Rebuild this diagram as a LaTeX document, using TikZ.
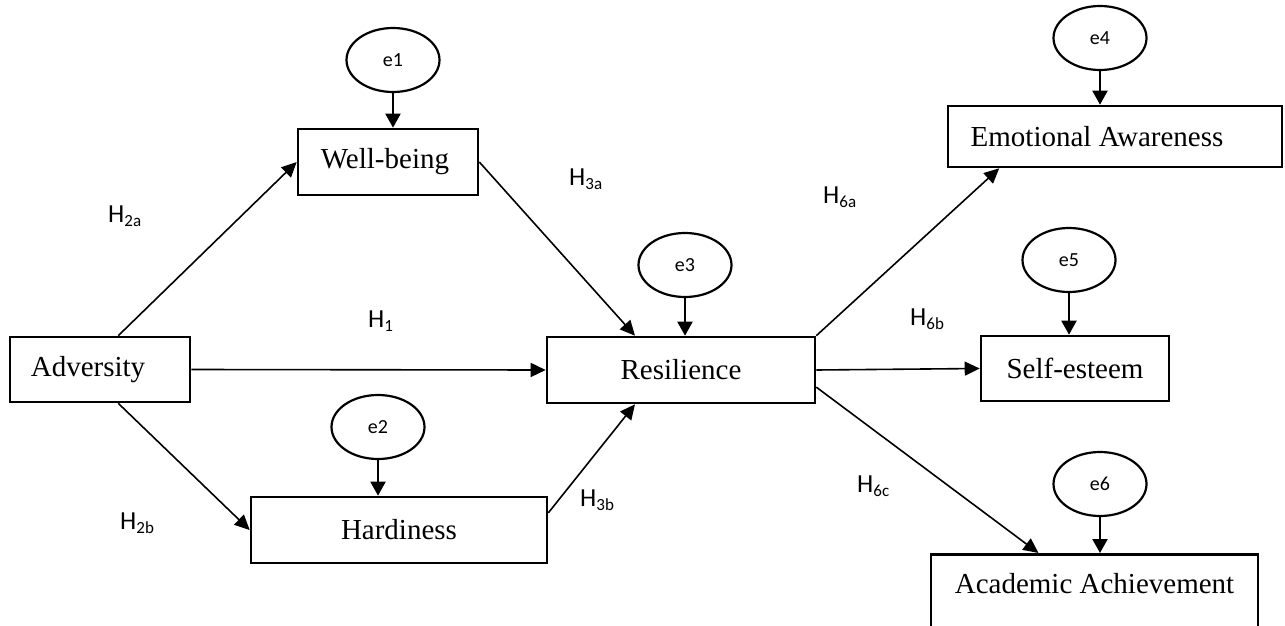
\documentclass[tikz,border=0pt]{standalone}
\usepackage{fontspec}
\setmainfont{Liberation Serif}
\newfontfamily\labelfont{Carlito}
\usetikzlibrary{arrows.meta,calc,shapes.geometric}
% hypothesis label: H with a lowered subscript
\newcommand{\hyp}[1]{{\labelfont\fontsize{26}{26}\selectfont H\raisebox{-4pt}{\fontsize{17}{17}\selectfont #1}}}
\begin{document}
\begin{tikzpicture}[x=1pt,y=-1pt,
  var/.style={draw,line width=2.6pt,rectangle,inner sep=0pt,font=\fontsize{29}{29}\selectfont},
  err/.style={draw,line width=2.2pt,ellipse,inner sep=0pt,minimum width=93pt,minimum height=64pt,
              font=\labelfont\fontsize{20}{20}\selectfont},
  link/.style={line width=1.6pt,-{Triangle[length=15pt,width=14pt]}},
  errlink/.style={line width=2pt,-{Triangle[length=14pt,width=15pt]}},
  hlab/.style={anchor=base west,inner sep=0pt}]
\useasboundingbox (0,0) rectangle (1285,626);
\clip (0,0) rectangle (1285,626);

% observed variables (a trailing kern moves the text left of the box centre)
\node[var,minimum width=180pt,minimum height=65pt] (adv) at (100,369.5) {Adversity\kern24pt};
\node[var,minimum width=180pt,minimum height=66pt] (wb) at (388,162) {Well-being\kern6pt};
\node[var,minimum width=296pt,minimum height=66pt] (hard) at (399,530) {Hardiness};
\node[var,minimum width=268pt,minimum height=66pt] (res) at (681,370) {Resilience};
\node[var,minimum width=334pt,minimum height=61pt] (ea) at (1115,136.5) {Emotional Awareness\kern36pt};
\node[var,minimum width=188pt,minimum height=65pt] (se) at (1075,368.5) {Self-esteem};
\node[var,minimum width=327pt,text height=39pt,text depth=90pt,anchor=north] (acad) at (1094.5,553) {Academic Achievement};

% error terms
\node[err] (e1) at (393,60) {e1};
\node[err] (e2) at (378,427) {e2};
\node[err] (e3) at (685,265) {e3};
\node[err] (e4) at (1100,38) {e4};
\node[err] (e5) at (1069,260) {e5};
\node[err] (e6) at (1100,484) {e6};

% error paths
\draw[errlink] (e1.south) -- (e1.south |- wb.north);
\draw[errlink] (e2.south) -- (e2.south |- hard.north);
\draw[errlink] (e3.south) -- (e3.south |- res.north);
\draw[errlink] (e4.south) -- (e4.south |- ea.north);
\draw[errlink] (e5.south) -- (e5.south |- se.north);
\draw[errlink] (e6.south) -- (e6.south |- acad.north);

% structural paths
\draw[link] ($(adv.north west)!0.6!(adv.north east)$) -- (wb.west);
\draw[link] ($(adv.south west)!0.6!(adv.south east)$) -- (hard.west);
\draw[link] (adv.east) -- (res.west);
\draw[link] (wb.east) -- ($(res.north west)!0.33!(res.north east)$);
\draw[link] ($(hard.north east)!0.25!(hard.south east)$) -- ($(res.south west)!0.33!(res.south east)$);
\draw[link] (res.north east) -- ($(ea.south west)!0.156!(ea.south east)$);
\draw[link] (res.east) -- (se.west);
\draw[link] ($(res.north east)!0.75!(res.south east)$) -- ($(acad.north west)!0.33!(acad.north east)$);

% hypothesis labels
\node[hlab] (h2a) at (108,222) {\hyp{2a}};
\node[hlab] (h2b) at (120,529) {\hyp{2b}};
\node[hlab] (h1) at (368,327) {\hyp{1}};
\node[hlab] (h3a) at (569,185) {\hyp{3a}};
\node[hlab] (h3b) at (580,506) {\hyp{3b}};
\node[hlab] (h6a) at (823,203) {\hyp{6a}};
\node[hlab] (h6b) at (910,325) {\hyp{6b}};
\node[hlab] (h6c) at (857,492) {\hyp{6c}};
\end{tikzpicture}
\end{document}
